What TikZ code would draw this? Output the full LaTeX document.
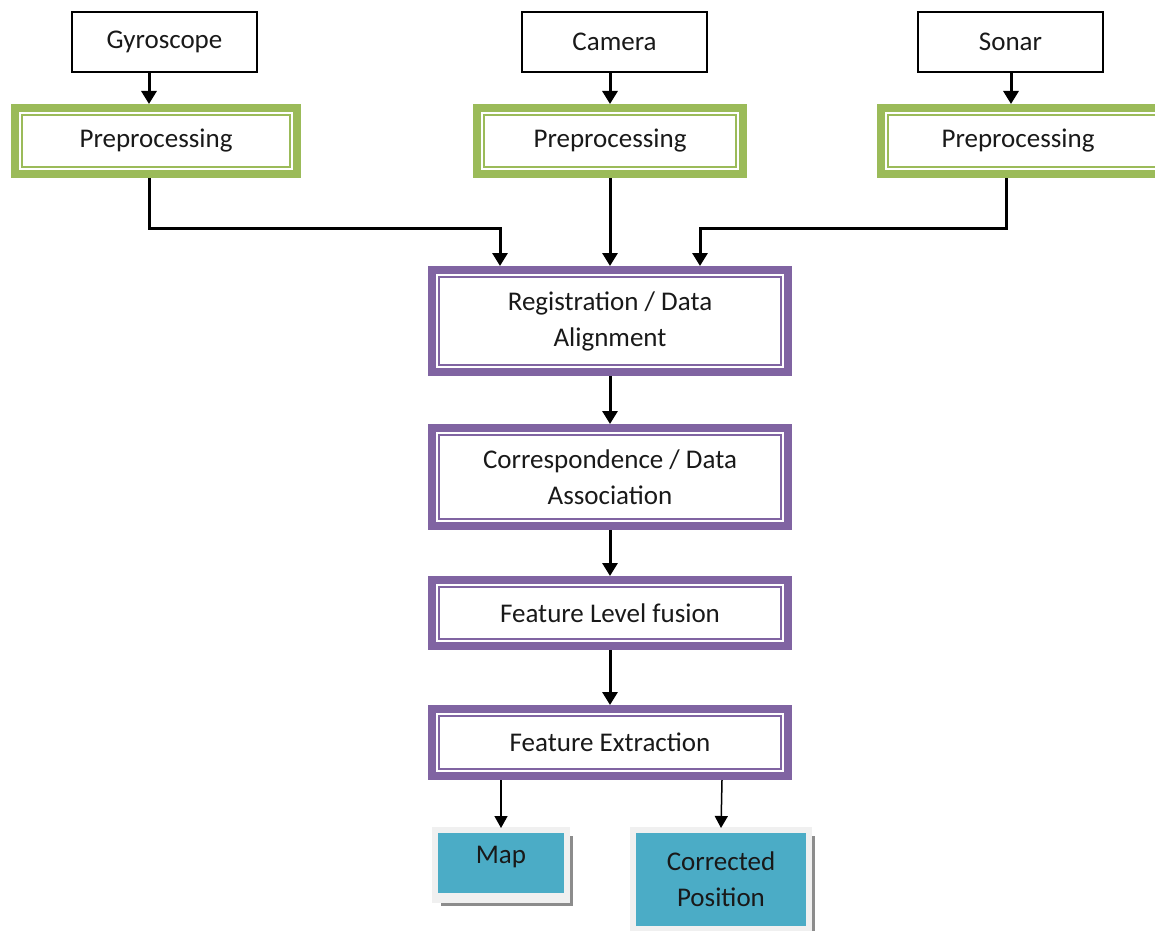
\documentclass[tikz,border=0pt]{standalone}
\usepackage{fontspec}
\setmainfont{Carlito}
\usetikzlibrary{arrows.meta,calc}
\definecolor{pgreen}{HTML}{9BBB59}
\definecolor{ppurple}{HTML}{8064A2}
\definecolor{pteal}{HTML}{4BACC6}
\begin{document}
\begin{tikzpicture}[x=1pt,y=-1pt,
  every node/.style={font=\fontsize{27}{36}\selectfont, align=center, inner sep=0pt, text=black!90},
  sensor/.style={draw=black, line width=1.6pt, minimum width=185pt, minimum height=60pt},
  greenbox/.style={draw=pgreen, line width=8pt, minimum width=282pt, minimum height=66pt},
  purplebox/.style={draw=ppurple, line width=8pt, minimum width=356pt},
  outbox/.style={fill=pteal, minimum width=126pt},
  arr/.style={line width=3pt, -{Triangle[width=15pt,length=13pt]}},
  tarr/.style={line width=1.5pt, -{Triangle[width=13pt,length=12pt]}}
]
\useasboundingbox (0,0) rectangle (1155,931);
% sensors
\node[sensor] (gyro) at (164.5,42) {Gyroscope};
\node[sensor] (cam) at (614.5,42) {Camera};
\node[sensor] (son) at (1010.5,42) {Sonar};
% preprocessing
\node[greenbox] (gp) at (156,141) {Preprocessing};
\node[greenbox, minimum width=266pt] (cp) at (610,141) {Preprocessing};
\node[greenbox] (sp) at (1022,141) {\hspace*{-4pt}Preprocessing\hspace*{4pt}};
% purple chain
\node[purplebox, minimum height=102pt] (reg) at (610,321) {Registration / Data\\Alignment};
\node[purplebox, minimum height=98pt] (cor) at (610,477) {Correspondence / Data\\Association};
\node[purplebox, minimum height=66pt] (fus) at (610,613) {Feature Level fusion};
\node[purplebox, minimum height=67pt] (ext) at (610,742.5) {Feature Extraction};
% inner thin lines
\foreach \n/\col in {gp/pgreen,cp/pgreen,sp/pgreen,reg/ppurple,cor/ppurple,fus/ppurple,ext/ppurple}{
  \draw[\col, line width=1.5pt] ($(\n.north west)+(11,11)$) rectangle ($(\n.south east)+(-11,-11)$);
}
% outputs with shadow frame
\fill[black!45] (441,836) rectangle (573,906);
\fill[black!6] (432,827) rectangle (570,903);
\node[outbox, minimum height=60pt] (map) at (501,863) {};
\node at (501,857) {Map};
\fill[black!45] (640,836) rectangle (815,931);
\fill[black!6] (630,827) rectangle (812,931);
\node[outbox, minimum width=170pt, minimum height=93pt] (pos) at (721,879.5) {Corrected\\Position};
% arrows
\draw[arr] (gyro.south -| 149,0) -- (gp.north -| 149,0);
\draw[arr] (cam.south -| 610,0) -- (cp.north -| 610,0);
\draw[arr] (son.south -| 1011,0) -- (sp.north -| 1011,0);
\draw[arr] (gp.south -| 149,0) |- (324,228) -| (reg.north -| 500,0);
\draw[arr] (cp.south) -- (reg.north);
\draw[arr] (sp.south -| 1006,0) |- (850,228) -| (reg.north -| 700,0);
\draw[arr] (reg.south) -- (cor.north);
\draw[arr] (cor.south) -- (fus.north);
\draw[arr] (fus.south) -- (ext.north);
\draw[tarr] (ext.south -| 501,0) -- (501,828);
\draw[tarr] (ext.south -| 722,0) -- (721,828);
\end{tikzpicture}
\end{document}
